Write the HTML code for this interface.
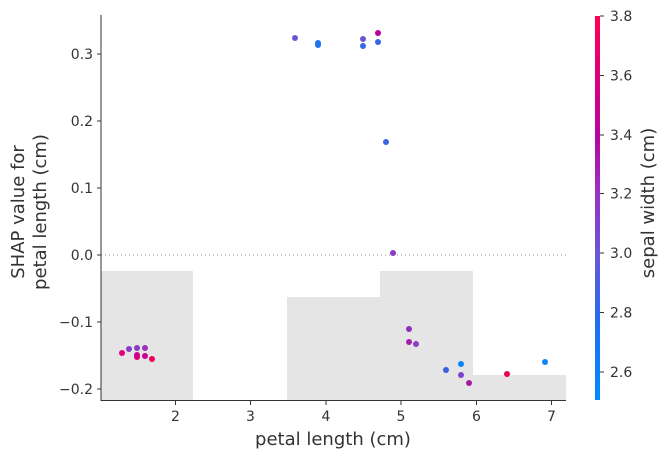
<!DOCTYPE html>
<html><head><meta charset="utf-8"><style>
body{margin:0;background:#fff;}
svg text{font-family:"DejaVu Sans","Liberation Sans",sans-serif;fill:#333;}
</style></head><body>
<svg width="667" height="459" xmlns="http://www.w3.org/2000/svg">
<defs>
<linearGradient id="cb" x1="0" y1="1" x2="0" y2="0">
<stop offset="0" stop-color="#008bfb"/>
<stop offset="0.2" stop-color="#1f6ff0"/>
<stop offset="0.38" stop-color="#6a55d9"/>
<stop offset="0.55" stop-color="#9b2fc2"/>
<stop offset="0.68" stop-color="#b405a6"/>
<stop offset="0.85" stop-color="#dd007a"/>
<stop offset="1" stop-color="#ff0052"/>
</linearGradient>
</defs>
<g fill="#e5e5e5">
<rect x="101" y="271" width="92" height="129"/>
<rect x="287" y="297" width="93" height="103"/>
<rect x="380" y="271" width="93" height="129"/>
<rect x="473" y="375" width="93" height="25"/>
</g>
<line x1="101" y1="255" x2="566" y2="255" stroke="#999" stroke-width="1" stroke-dasharray="1,3"/>
<line x1="101" y1="15" x2="101" y2="401" stroke="#333" stroke-width="1"/>
<line x1="100.5" y1="400.5" x2="566" y2="400.5" stroke="#333" stroke-width="1"/>
<g stroke="#333">
<line x1="175.5" y1="401" x2="175.5" y2="405"/>
<line x1="250.5" y1="401" x2="250.5" y2="405"/>
<line x1="326" y1="401" x2="326" y2="405"/>
<line x1="401" y1="401" x2="401" y2="405"/>
<line x1="476.5" y1="401" x2="476.5" y2="405"/>
<line x1="551.5" y1="401" x2="551.5" y2="405"/>
<line x1="97" y1="54" x2="101" y2="54"/>
<line x1="97" y1="121" x2="101" y2="121"/>
<line x1="97" y1="188" x2="101" y2="188"/>
<line x1="97" y1="255" x2="101" y2="255"/>
<line x1="97" y1="322" x2="101" y2="322"/>
<line x1="97" y1="389" x2="101" y2="389"/>
</g>
<g font-size="14" text-anchor="middle">
<text x="175.5" y="421">2</text><text x="250.5" y="421">3</text><text x="326" y="421">4</text>
<text x="401" y="421">5</text><text x="476.5" y="421">6</text><text x="551.5" y="421">7</text>
</g>
<g font-size="14" text-anchor="end">
<text x="93" y="59">0.3</text><text x="93" y="126">0.2</text><text x="93" y="193">0.1</text>
<text x="93" y="260">0.0</text><text x="93" y="327">−0.1</text><text x="93" y="394">−0.2</text>
</g>
<text x="333" y="445" font-size="18" text-anchor="middle">petal length (cm)</text>
<text transform="translate(24,212) rotate(-90)" font-size="18" text-anchor="middle">SHAP value for</text>
<text transform="translate(46,212) rotate(-90)" font-size="18" text-anchor="middle">petal length (cm)</text>
<g>
<circle cx="122" cy="353" r="3" fill="#e0007a"/>
<circle cx="129" cy="349" r="3" fill="#8a3cc8"/>
<circle cx="137" cy="348" r="3" fill="#8a3cc8"/>
<circle cx="137" cy="357" r="3" fill="#e0006e"/>
<circle cx="137" cy="355" r="3" fill="#cc008a"/>
<circle cx="145" cy="348" r="3" fill="#9933bb"/>
<circle cx="145" cy="356" r="3" fill="#c8008e"/>
<circle cx="152" cy="359" r="3" fill="#f0005c"/>
<circle cx="409" cy="329" r="3" fill="#9030b8"/>
<circle cx="409" cy="342" r="3" fill="#a020aa"/>
<circle cx="416" cy="344" r="3" fill="#8a3cc8"/>
<circle cx="446" cy="370" r="3" fill="#3a5ee0"/>
<circle cx="461" cy="364" r="3" fill="#0a86f8"/>
<circle cx="461" cy="375" r="3" fill="#7a46d0"/>
<circle cx="469" cy="383" r="3" fill="#a01e9e"/>
<circle cx="507" cy="374" r="3" fill="#f00055"/>
<circle cx="545" cy="362" r="3" fill="#0a86f8"/>
<circle cx="295" cy="38" r="3" fill="#6a55d9"/>
<circle cx="318" cy="43" r="3" fill="#1e74f0"/>
<circle cx="318" cy="45" r="3" fill="#1e74f0"/>
<circle cx="363" cy="39" r="3" fill="#6a55d9"/>
<circle cx="363" cy="46" r="3" fill="#3a65e6"/>
<circle cx="378" cy="33" r="3" fill="#b800a0"/>
<circle cx="378" cy="42" r="3" fill="#3a65e6"/>
<circle cx="386" cy="142" r="3" fill="#3a65e6"/>
<circle cx="393" cy="253" r="3" fill="#8a3cc8"/>
</g>
<rect x="595" y="16" width="5" height="384" fill="url(#cb)"/>
<g stroke="#333">
<line x1="600" y1="16" x2="604" y2="16"/><line x1="600" y1="75.5" x2="604" y2="75.5"/>
<line x1="600" y1="135" x2="604" y2="135"/><line x1="600" y1="193.5" x2="604" y2="193.5"/>
<line x1="600" y1="253" x2="604" y2="253"/><line x1="600" y1="312.5" x2="604" y2="312.5"/>
<line x1="600" y1="372" x2="604" y2="372"/>
</g>
<g font-size="14">
<text x="610" y="21">3.8</text><text x="610" y="80.5">3.6</text><text x="610" y="140">3.4</text>
<text x="610" y="198.5">3.2</text><text x="610" y="258">3.0</text><text x="610" y="317.5">2.8</text>
<text x="610" y="377">2.6</text>
</g>
<text transform="translate(654,203) rotate(-90)" font-size="18" text-anchor="middle">sepal width (cm)</text>
</svg>
</body></html>
